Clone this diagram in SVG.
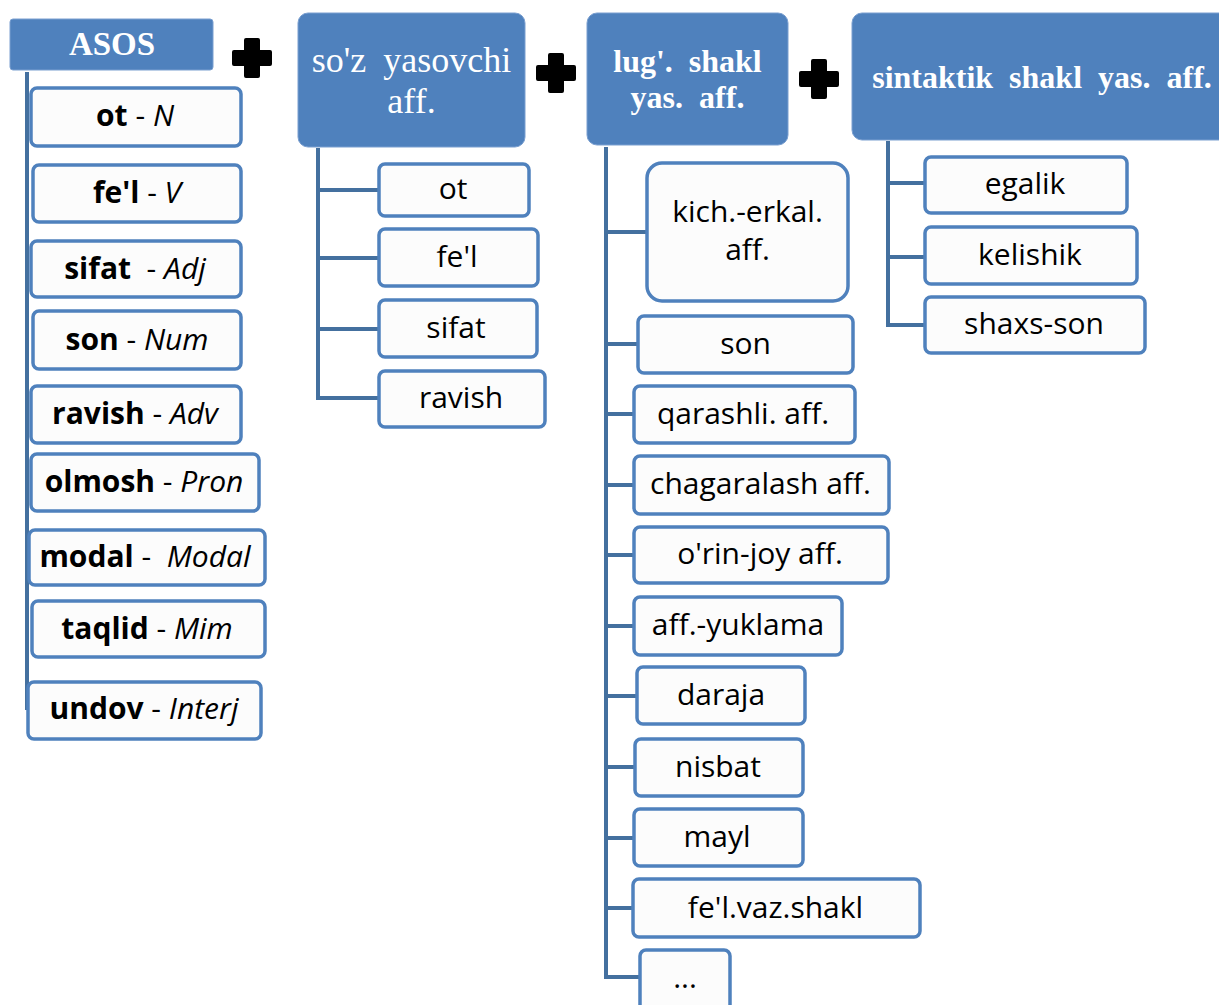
<svg xmlns="http://www.w3.org/2000/svg" width="1219" height="1005" viewBox="0 0 1219 1005">
<defs>
<style>
.h{fill:#4f81bd;stroke:#7a9fd0;stroke-width:1}
.n{fill:#fcfcfc;stroke:#4f81bd;stroke-width:3.5}
.ht{font-family:"Liberation Serif",serif;fill:#fff;text-anchor:middle;word-spacing:8px}
.t{font-family:"Open Sans","Noto Sans",sans-serif;font-size:30px;fill:#000;text-anchor:middle;white-space:pre}
.b{font-weight:bold}
.i{font-style:italic}
.c{fill:none;stroke:#44709f;stroke-width:4}
</style>
<path id="plus" d="M-6,-20 H6 Q8,-20 8,-18 V-8 H18 Q20,-8 20,-6 V6 Q20,8 18,8 H8 V18 Q8,20 6,20 H-6 Q-8,20 -8,18 V8 H-18 Q-20,8 -20,6 V-6 Q-20,-8 -18,-8 H-8 V-18 Q-8,-20 -6,-20 Z" fill="#000"/>
</defs>
<rect width="1219" height="1005" fill="#fff"/>

<g id="connectors">
<path class="c" d="M27 72 V710"/>
<path class="c" d="M318 148 V398 H379 M318 190 H379 M318 258 H379 M318 329 H379"/>
<path class="c" d="M606 147 V977 H640 M606 232 H647 M606 344 H638 M606 414 H634 M606 485 H634 M606 555 H634 M606 626 H634 M606 696 H637 M606 767 H635 M606 838 H634 M606 908 H633"/>
<path class="c" d="M888 141 V325 H925 M888 183 H925 M888 257 H925"/>
</g>

<g id="plus-signs">
<use href="#plus" x="252" y="58"/>
<use href="#plus" x="556" y="73"/>
<use href="#plus" x="819" y="79"/>
</g>

<g id="asos"><rect class="h" x="10" y="19" width="203" height="51" rx="3"/><text class="ht b" x="112" y="55" font-size="33">ASOS</text></g>
<g id="soz"><rect class="h" x="298" y="13" width="227" height="134" rx="10"/><text class="ht" x="411.5" y="72" font-size="36">so'z yasovchi</text><text class="ht" x="411.5" y="113" font-size="36">aff.</text></g>
<g id="lug"><rect class="h" x="587" y="13" width="201" height="132" rx="10"/><text class="ht b" x="687.5" y="72" font-size="32">lug'. shakl</text><text class="ht b" x="687.5" y="108" font-size="32">yas. aff.</text></g>
<g id="sint"><rect class="h" x="852" y="13" width="390" height="127" rx="10"/><text class="ht b" x="1042" y="88" font-size="32">sintaktik shakl yas. aff.</text></g>

<g id="c1-ot"><rect class="n" x="31" y="88" width="210" height="58" rx="6"/><text class="t" x="135" y="126"><tspan class="b">ot</tspan> - <tspan class="i">N</tspan></text></g>
<g id="c1-fel"><rect class="n" x="33" y="165" width="208" height="57" rx="6"/><text class="t" x="137" y="203"><tspan class="b">fe'l</tspan> - <tspan class="i">V</tspan></text></g>
<g id="c1-sifat"><rect class="n" x="31" y="241" width="210" height="56" rx="6"/><text class="t" x="135" y="279"><tspan class="b">sifat</tspan>  - <tspan class="i">Adj</tspan></text></g>
<g id="c1-son"><rect class="n" x="33" y="311" width="208" height="58" rx="6"/><text class="t" x="137" y="350"><tspan class="b">son</tspan> - <tspan class="i">Num</tspan></text></g>
<g id="c1-ravish"><rect class="n" x="31" y="386" width="210" height="57" rx="6"/><text class="t" x="135" y="424"><tspan class="b">ravish</tspan> - <tspan class="i">Adv</tspan></text></g>
<g id="c1-olmosh"><rect class="n" x="31" y="454" width="228" height="57" rx="6"/><text class="t" x="144" y="492"><tspan class="b">olmosh</tspan> - <tspan class="i">Pron</tspan></text></g>
<g id="c1-modal"><rect class="n" x="29" y="530" width="236" height="55" rx="6"/><text class="t" x="145" y="567"><tspan class="b">modal</tspan> -  <tspan class="i">Modal</tspan></text></g>
<g id="c1-taqlid"><rect class="n" x="32" y="601" width="233" height="56" rx="6"/><text class="t" x="147" y="639"><tspan class="b">taqlid</tspan> - <tspan class="i">Mim</tspan></text></g>
<g id="c1-undov"><rect class="n" x="28" y="682" width="233" height="57" rx="6"/><text class="t" x="144" y="719"><tspan class="b">undov</tspan> - <tspan class="i">Interj</tspan></text></g>

<g id="c2-ot"><rect class="n" x="379" y="164" width="150" height="52" rx="6"/><text class="t" x="453" y="199">ot</text></g>
<g id="c2-fel"><rect class="n" x="379" y="229" width="159" height="57" rx="6"/><text class="t" x="457" y="267">fe'l</text></g>
<g id="c2-sifat"><rect class="n" x="379" y="300" width="158" height="57" rx="6"/><text class="t" x="456" y="338">sifat</text></g>
<g id="c2-ravish"><rect class="n" x="379" y="371" width="166" height="56" rx="6"/><text class="t" x="461" y="408">ravish</text></g>

<g id="c3-kich"><rect class="n" x="647" y="163" width="201" height="138" rx="15"/><text class="t" x="747.5" y="222">kich.-erkal.</text><text class="t" x="747.5" y="260">aff.</text></g>
<g id="c3-son"><rect class="n" x="638" y="316" width="215" height="57" rx="6"/><text class="t" x="745.5" y="354">son</text></g>
<g id="c3-qarashli"><rect class="n" x="634" y="386" width="221" height="57" rx="6"/><text class="t" x="743" y="424">qarashli. aff.</text></g>
<g id="c3-chagaralash"><rect class="n" x="634" y="456" width="255" height="58" rx="6"/><text class="t" x="760.5" y="494">chagaralash aff.</text></g>
<g id="c3-orinjoy"><rect class="n" x="634" y="527" width="254" height="56" rx="6"/><text class="t" x="760" y="564">o'rin-joy aff.</text></g>
<g id="c3-yuklama"><rect class="n" x="634" y="597" width="208" height="58" rx="6"/><text class="t" x="738" y="635">aff.-yuklama</text></g>
<g id="c3-daraja"><rect class="n" x="637" y="667" width="168" height="57" rx="6"/><text class="t" x="721" y="705">daraja</text></g>
<g id="c3-nisbat"><rect class="n" x="635" y="739" width="168" height="57" rx="6"/><text class="t" x="718" y="777">nisbat</text></g>
<g id="c3-mayl"><rect class="n" x="634" y="809" width="169" height="57" rx="6"/><text class="t" x="717" y="847">mayl</text></g>
<g id="c3-felvaz"><rect class="n" x="633" y="879" width="287" height="58" rx="6"/><text class="t" x="775.5" y="918">fe'l.vaz.shakl</text></g>
<g id="c3-dots"><rect class="n" x="640" y="950" width="90" height="70" rx="6"/><text class="t" x="685" y="988">...</text></g>

<g id="c4-egalik"><rect class="n" x="925" y="157" width="202" height="56" rx="6"/><text class="t" x="1025" y="194">egalik</text></g>
<g id="c4-kelishik"><rect class="n" x="925" y="227" width="212" height="57" rx="6"/><text class="t" x="1030" y="265">kelishik</text></g>
<g id="c4-shaxs"><rect class="n" x="925" y="297" width="220" height="56" rx="6"/><text class="t" x="1034" y="334">shaxs-son</text></g>
</svg>
